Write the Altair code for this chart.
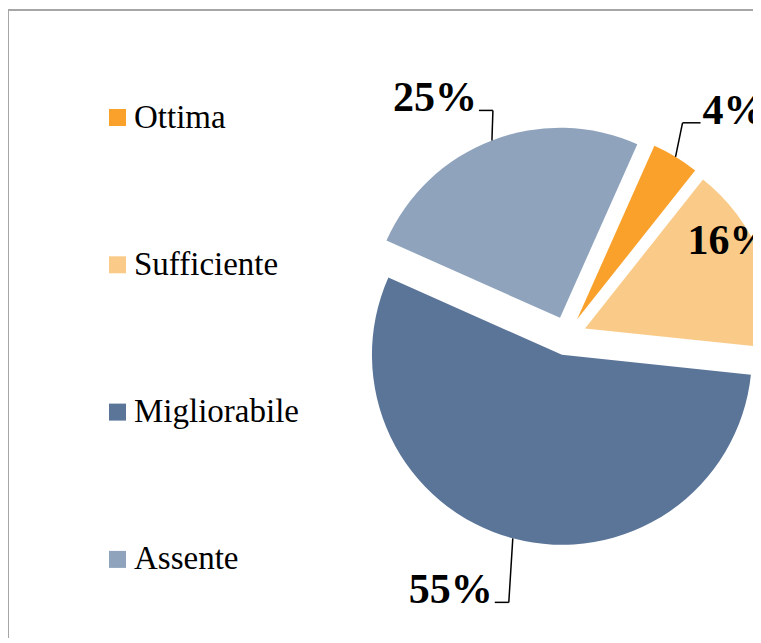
import math
import altair as alt
import pandas as pd

# ---- data ----
categories = ["Ottima", "Sufficiente", "Migliorabile", "Assente"]
values = [4, 16, 55, 25]
colors = ["#F9A12B", "#FACB88", "#5B7599", "#8FA3BC"]

# ---- layout (view pixels) ----
W, H = 745, 628
CX, CY = 559, 326
R = 190
EXPLODE = 19.5
START = math.radians(24)

label_layout = {
    "Ottima":       dict(kind="out", rr=1.0, leg=-34, ex=7,   h=18,  al="left"),
    "Sufficiente":  dict(kind="in",  rr=0.7, leg=-24, ex=-20, h=0,   al="left"),
    "Migliorabile": dict(kind="out", rr=1.0, leg=64,  ex=-4,  h=-14, al="right"),
    "Assente":      dict(kind="out", rr=1.0, leg=-30, ex=1,   h=-14, al="right"),
}

rows = []
for i, (c, v) in enumerate(zip(categories, values)):
    d = dict(idx=i, cat=c, value=v, label=f"{v}%")
    d.update(label_layout[c])
    rows.append(d)
df = pd.DataFrame(rows)

base = alt.Chart(df).transform_joinaggregate(
    total="sum(value)"
).transform_window(
    cum="sum(value)", sort=[alt.SortField("idx")], frame=[None, 0]
).transform_calculate(
    a0=f"{START} + 2*PI*(datum.cum - datum.value)/datum.total",
    a1=f"{START} + 2*PI*datum.cum/datum.total",
).transform_calculate(
    mid="(datum.a0 + datum.a1)/2"
).transform_calculate(
    ax=f"{CX} + {EXPLODE}*sin(datum.mid)",
    ay=f"{CY} - {EXPLODE}*cos(datum.mid)",
).transform_calculate(
    px=f"datum.ax + {R}*datum.rr*sin(datum.mid)",
    py=f"datum.ay - {R}*datum.rr*cos(datum.mid)",
).transform_calculate(
    exx="datum.px + datum.ex",
    exy="datum.py + datum.leg",
).transform_calculate(
    hx="datum.exx + datum.h",
).transform_calculate(
    tx="datum.hx + (datum.h > 0 ? 2 : (datum.h < 0 ? -2 : 0))",
    ty="datum.exy + 1",
)

pie = base.mark_arc(radius=R, clip=True).encode(
    theta=alt.Theta("a0:Q", scale=None, stack=None),
    theta2="a1:Q",
    x=alt.X("ax:Q", scale=None),
    y=alt.Y("ay:Q", scale=None),
    color=alt.Color(
        "cat:N",
        scale=alt.Scale(domain=categories, range=colors),
        legend=alt.Legend(
            title=None,
            orient="none",
            legendX=93,
            legendY=91,
            padding=0,
            symbolType="square",
            symbolSize=289,
            symbolStrokeWidth=0,
            symbolOpacity=1,
            labelFont="Liberation Serif",
            labelFontSize=33,
            labelColor="#000000",
            labelOffset=0,
            labelLimit=400,
            rowPadding=113.3,
        ),
    ),
)

leader1 = base.transform_filter("datum.kind == 'out'").mark_rule(
    color="#000000", strokeWidth=1.5
).encode(
    x=alt.X("px:Q", scale=None), y=alt.Y("py:Q", scale=None),
    x2="exx:Q", y2="exy:Q",
)
leader2 = base.transform_filter("datum.kind == 'out'").mark_rule(
    color="#000000", strokeWidth=1.5
).encode(
    x=alt.X("exx:Q", scale=None), y=alt.Y("exy:Q", scale=None),
    x2="hx:Q", y2="exy:Q",
)

text_style = dict(font="Liberation Serif", fontSize=42, fontWeight="bold",
                  color="#000000", baseline="alphabetic", clip=True)
txt_left = base.transform_filter("datum.al == 'left'").mark_text(
    align="left", **text_style
).encode(x=alt.X("tx:Q", scale=None), y=alt.Y("ty:Q", scale=None), text="label:N")
txt_right = base.transform_filter("datum.al == 'right'").mark_text(
    align="right", **text_style
).encode(x=alt.X("tx:Q", scale=None), y=alt.Y("ty:Q", scale=None), text="label:N")

frame_src = alt.Chart(pd.DataFrame({"k": [0]}))
frame_left = frame_src.mark_rule(color="#A6A6A6", strokeWidth=2).encode(
    x=alt.value(0), y=alt.value(0), y2=alt.value(H)
)
frame_top = frame_src.mark_rule(color="#A6A6A6", strokeWidth=2).encode(
    x=alt.value(0), x2=alt.value(W), y=alt.value(0)
)

chart = alt.layer(
    frame_left, frame_top, pie, leader1, leader2, txt_left, txt_right
).properties(
    width=W, height=H,
    autosize=alt.AutoSizeParams(type="none"),
    padding={"left": 0, "top": 2, "right": 0, "bottom": 0},
).configure_view(stroke=None)

chart.save("out.html", embed_options={"renderer": "svg", "actions": False})
